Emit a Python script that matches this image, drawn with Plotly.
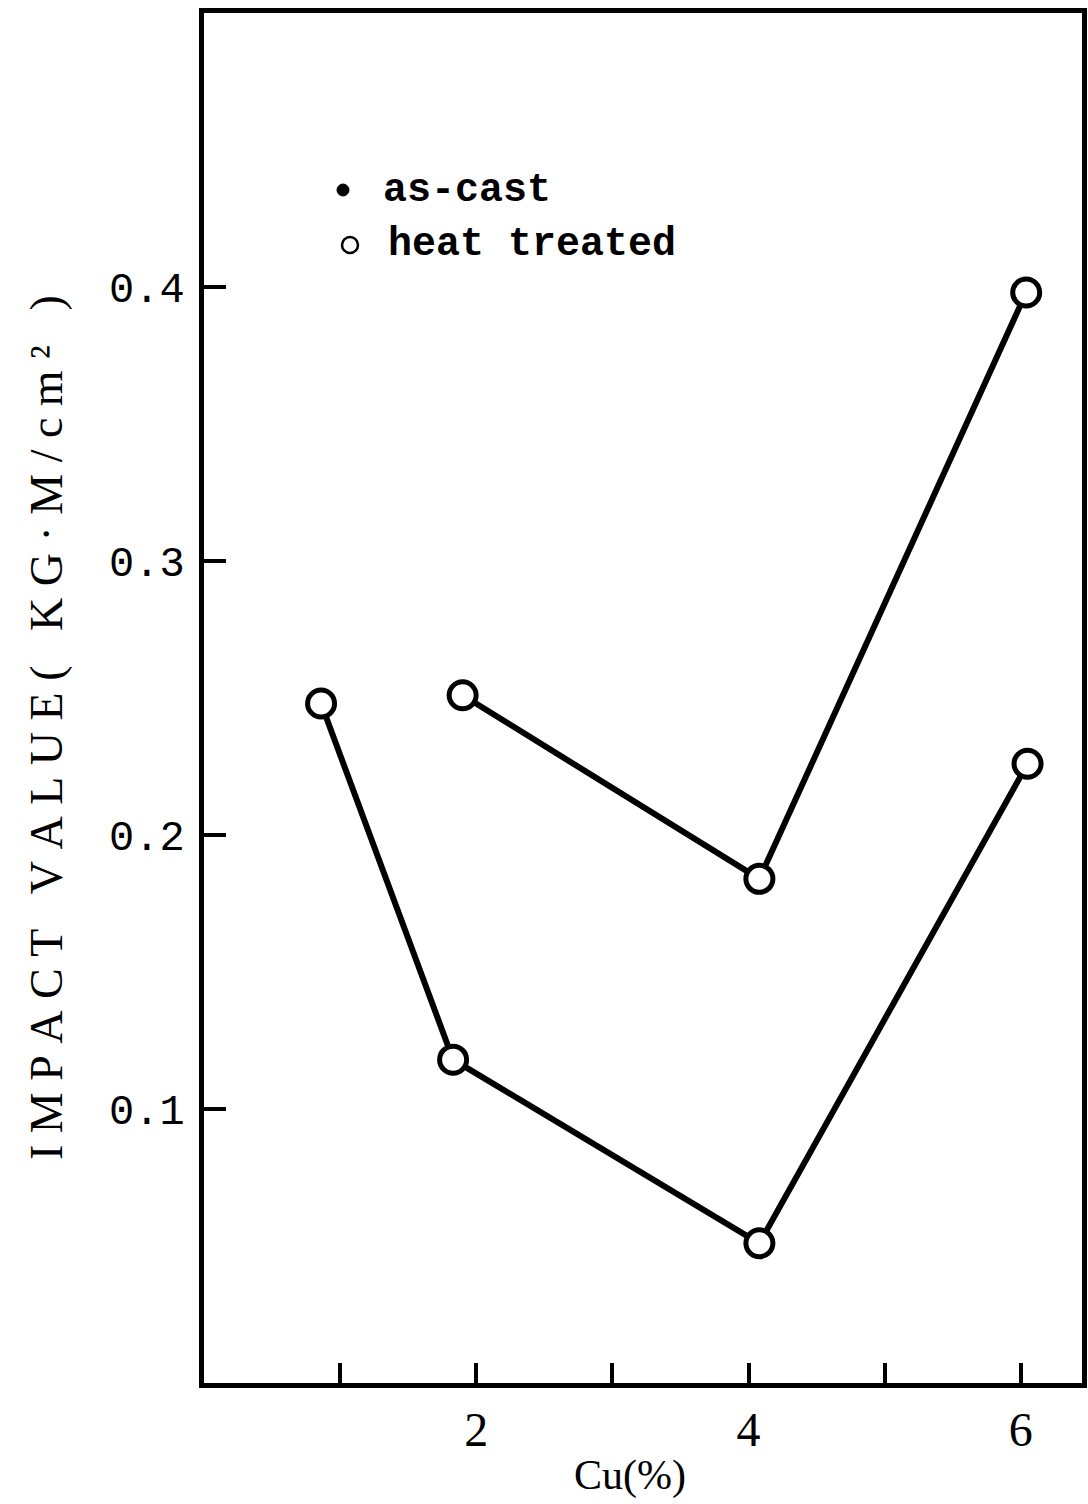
import plotly.graph_objects as go

# Impact value vs copper content
cu_lower = [0.86, 1.83, 4.08, 6.05]
impact_lower = [0.248, 0.118, 0.051, 0.226]

cu_upper = [1.90, 4.08, 6.04]
impact_upper = [0.251, 0.184, 0.398]

x_tick_vals = [1, 2, 3, 4, 5, 6]
x_tick_text = ["", "2", "", "4", "", "6"]
y_tick_vals = [0.1, 0.2, 0.3, 0.4]
y_tick_text = ["0.1", "0.2", "0.3", "0.4"]

legend_labels = ["as-cast", "heat treated"]
x_title = "Cu(%)"
y_title = "IMPACT VALUE( KG·M/cm² )"

PLOT_W = 1088 - 204 - 6
PLOT_H = 1504 - 13 - 121


def spaced(text, gap="\u2005"):
    """Typewriter-style letter spacing for the axis caption."""
    return gap.join(text)


fig = go.Figure()

series_style = dict(
    mode="lines+markers",
    line=dict(color="black", width=6),
    marker=dict(symbol="circle", size=27, color="white",
                line=dict(color="black", width=5)),
    showlegend=False,
)
fig.add_trace(go.Scatter(x=cu_lower, y=impact_lower, name=legend_labels[0], **series_style))
fig.add_trace(go.Scatter(x=cu_upper, y=impact_upper, name=legend_labels[1], **series_style))

# Hand-placed key in the upper left of the frame
key_y = [(1383 - 190) / PLOT_H, (1383 - 245) / PLOT_H]
fig.add_shape(type="circle", xref="paper", yref="paper",
              xsizemode="pixel", ysizemode="pixel",
              xanchor=(343 - 204) / PLOT_W, yanchor=key_y[0], x0=-6, x1=6, y0=-6, y1=6,
              fillcolor="black", line=dict(color="black", width=1))
fig.add_shape(type="circle", xref="paper", yref="paper",
              xsizemode="pixel", ysizemode="pixel",
              xanchor=(350 - 204) / PLOT_W, yanchor=key_y[1], x0=-8, x1=8, y0=-8, y1=8,
              fillcolor="white", line=dict(color="black", width=2.5))
key_font = dict(family="Liberation Mono", size=40, color="black")
fig.add_annotation(xref="paper", yref="paper", x=(381 - 204) / PLOT_W, y=key_y[0],
                   xanchor="left", yanchor="middle", showarrow=False,
                   text="<b>" + legend_labels[0] + "</b>", font=key_font)
fig.add_annotation(xref="paper", yref="paper", x=(386 - 204) / PLOT_W, y=key_y[1],
                   xanchor="left", yanchor="middle", showarrow=False,
                   text="<b>" + legend_labels[1] + "</b>", font=key_font)

# Axis captions
fig.add_annotation(xref="paper", yref="paper", x=(630 - 204) / PLOT_W, y=0,
                   yshift=-92, xanchor="center", yanchor="middle", showarrow=False,
                   text=x_title, font=dict(family="Liberation Serif", size=42, color="black"))
fig.add_annotation(xref="paper", yref="paper", x=(46 - 204) / PLOT_W,
                   y=(1383 - 728) / PLOT_H, textangle=-90,
                   xanchor="center", yanchor="middle", showarrow=False,
                   text=spaced(y_title),
                   font=dict(family="Liberation Serif", size=46, color="black"))

fig.update_layout(
    width=1088, height=1504,
    margin=dict(l=204, r=6, t=13, b=121, autoexpand=False),
    paper_bgcolor="white", plot_bgcolor="white",
    font=dict(family="Liberation Serif", color="black"),
    xaxis=dict(
        range=[0, 6.45], automargin=False,
        tickmode="array", tickvals=x_tick_vals, ticktext=x_tick_text,
        ticks="inside", ticklen=20, tickwidth=4, tickcolor="black",
        showline=True, linewidth=5, linecolor="black", mirror=True,
        showgrid=False, zeroline=False,
        tickfont=dict(family="Liberation Serif", size=48),
        ticklabelstandoff=0,
    ),
    yaxis=dict(
        range=[0, 0.5], automargin=False,
        tickmode="array", tickvals=y_tick_vals, ticktext=y_tick_text,
        ticks="inside", ticklen=22, tickwidth=4, tickcolor="black",
        showline=True, linewidth=5, linecolor="black", mirror=True,
        showgrid=False, zeroline=False,
        tickfont=dict(family="Liberation Mono", size=42),
        ticklabelstandoff=6,
    ),
)

fig.write_html("out.html")
